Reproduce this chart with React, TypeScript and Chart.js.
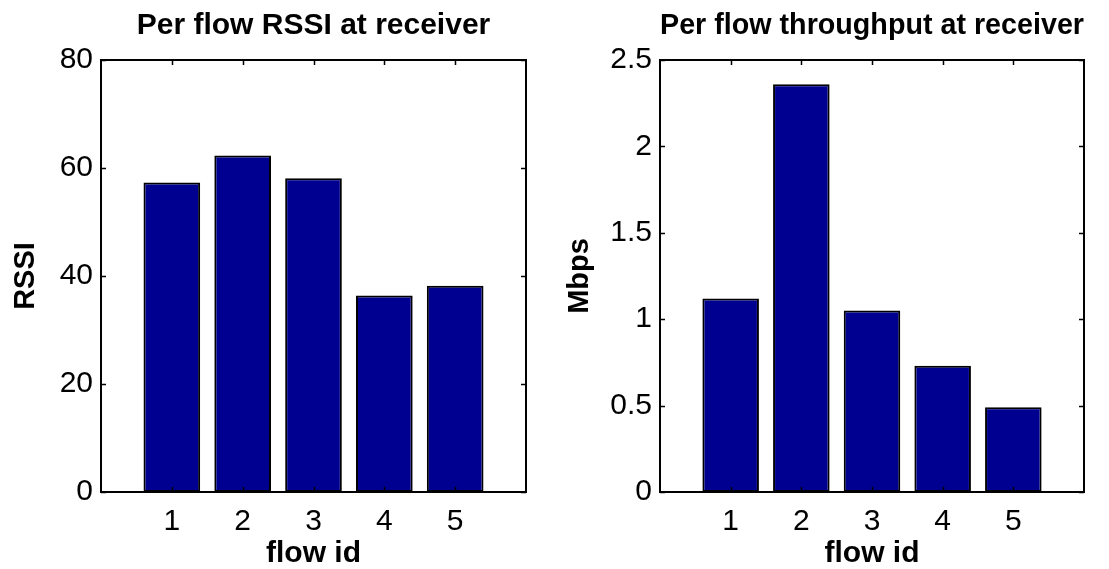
import React, { useEffect, useRef } from "react";
import { Chart, registerables } from "chart.js";

Chart.register(...registerables);

// ---- data ----
const flowIds = [1, 2, 3, 4, 5];
const xPositions = [0, 1, 2, 3, 4, 5, 6];
const rssiValues = [57.3, 62.3, 58.1, 36.4, 38.2];
const throughputValues = [1.12, 2.36, 1.05, 0.73, 0.49];
const rssiTicks = [0, 20, 40, 60, 80];
const throughputTicks = [0, 0.5, 1, 1.5, 2, 2.5];

const FONT = "'Liberation Sans', Arial, Helvetica, sans-serif";
const BAR_COLOR = "#000090";

const framePlugin = {
  id: "matlabFrame",
  afterDatasetsDraw(chart: any) {
    const { ctx, chartArea: a, scales } = chart;
    const x = scales.x;
    const y = scales.y;
    const L = 5;
    ctx.save();
    ctx.strokeStyle = "#000";
    ctx.lineWidth = 1.5;
    ctx.beginPath();
    y.ticks.forEach((t: any) => {
      const py = Math.round(y.getPixelForValue(t.value)) + 0.5;
      ctx.moveTo(a.left, py);
      ctx.lineTo(a.left + L, py);
      ctx.moveTo(a.right, py);
      ctx.lineTo(a.right - L, py);
    });
    flowIds.forEach((f) => {
      const px = Math.round(x.getPixelForValue(xPositions.indexOf(f))) + 0.5;
      ctx.moveTo(px, a.bottom);
      ctx.lineTo(px, a.bottom - L);
      ctx.moveTo(px, a.top);
      ctx.lineTo(px, a.top + L);
    });
    ctx.stroke();
    ctx.lineWidth = 2;
    ctx.strokeRect(a.left, a.top, a.right - a.left, a.bottom - a.top);
    ctx.restore();
  },
};

function BarPanel(props: {
  title: string;
  yTitle: string;
  values: number[];
  ticks: number[];
  yAxisWidth: number;
  rightPad: number;
  width: number;
}) {
  const ref = useRef<HTMLCanvasElement>(null);
  useEffect(() => {
    if (!ref.current) return;
    const labels = xPositions.map((p) => String(p));
    const data = xPositions.map((p) => {
      const i = flowIds.indexOf(p);
      return i >= 0 ? props.values[i] : null;
    });
    const tickVals = props.ticks;
    const chart = new Chart(ref.current, {
      type: "bar",
      data: {
        labels,
        datasets: [
          {
            data,
            backgroundColor: BAR_COLOR,
            borderColor: "#000",
            borderWidth: 2,
            borderSkipped: false,
            categoryPercentage: 1,
            barPercentage: 0.8,
          },
        ],
      },
      options: {
        responsive: false,
        animation: false,
        events: [],
        layout: { padding: { left: 0, right: props.rightPad, top: 0, bottom: 0 } },
        plugins: {
          legend: { display: false },
          tooltip: { enabled: false },
          title: {
            display: true,
            text: props.title,
            fullSize: false,
            color: "#000",
            font: { family: FONT, size: 30, weight: "bold" },
            padding: { top: 8, bottom: 16 },
          },
        },
        scales: {
          x: {
            type: "category",
            offset: false,
            grid: { display: false, drawTicks: false },
            border: { display: false },
            ticks: {
              color: "#000",
              font: { family: FONT, size: 30 },
              padding: 12,
              maxRotation: 0,
              autoSkip: false,
              callback: (_v: any, i: number) =>
                flowIds.includes(xPositions[i]) ? String(xPositions[i]) : "",
            },
            title: {
              display: true,
              text: "flow id",
              color: "#000",
              font: { family: FONT, size: 30, weight: "bold" },
              padding: { top: 0, bottom: -3 },
            },
            afterFit: (s: any) => {
              s.height = 77;
            },
          },
          y: {
            min: tickVals[0],
            max: tickVals[tickVals.length - 1],
            grid: { display: false, drawTicks: false },
            border: { display: false },
            afterBuildTicks: (s: any) => {
              s.ticks = tickVals.map((v) => ({ value: v }));
            },
            ticks: {
              color: "#000",
              font: { family: FONT, size: 30 },
              padding: 8,
              callback: (v: any) => String(v),
            },
            title: {
              display: true,
              text: props.yTitle,
              color: "#000",
              font: { family: FONT, size: 29, weight: "bold" },
              padding: { top: 9, bottom: 0 },
            },
            afterFit: (s: any) => {
              s.width = props.yAxisWidth;
            },
          },
        },
      },
      plugins: [framePlugin],
    } as any);
    return () => chart.destroy();
  }, []);
  return <canvas ref={ref} width={props.width} height={569} style={{ display: "block" }} />;
}

export default function App() {
  return (
    <div
      style={{
        position: "fixed",
        left: 0,
        top: 0,
        width: 1109,
        height: 569,
        background: "#fff",
        display: "flex",
      }}
    >
      <BarPanel
        title="Per flow RSSI at receiver"
        yTitle="RSSI"
        values={rssiValues}
        ticks={rssiTicks}
        yAxisWidth={101}
        rightPad={28}
        width={554}
      />
      <BarPanel
        title="Per flow throughput at receiver"
        yTitle="Mbps"
        values={throughputValues}
        ticks={throughputTicks}
        yAxisWidth={106}
        rightPad={25}
        width={555}
      />
    </div>
  );
}
